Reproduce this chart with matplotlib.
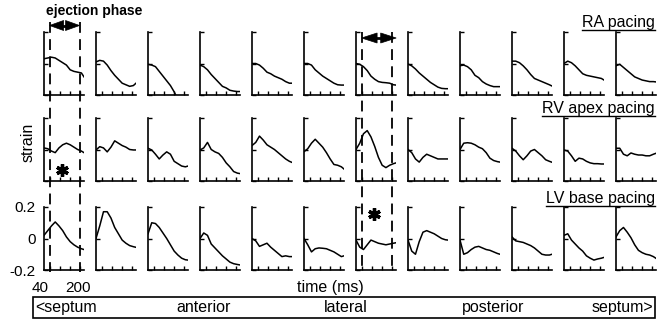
import matplotlib
matplotlib.use("Agg")
import matplotlib.pyplot as plt
from matplotlib.patches import Rectangle, Polygon
from matplotlib.lines import Line2D

plt.rcParams['font.family'] = ['Liberation Sans', 'DejaVu Sans']

# Eje de tiempo (ms) común a todas las curvas
tiempo = [10, 30, 50, 70, 90, 110, 130, 150, 170, 190, 210, 224]

# Deformación (strain) por segmento, de septum a septum (12 columnas)
ra_pacing = [
    [0.03, 0.035, 0.04, 0.035, 0.02, 0.005, -0.01, -0.04, -0.05, -0.055, -0.06, -0.085],
    [0.01, 0.02, 0.015, -0.01, -0.045, -0.075, -0.10, -0.125, -0.135, -0.145, -0.14, -0.125],
    [-0.005, -0.01, -0.02, -0.05, -0.08, -0.11, -0.14, -0.18, -0.23, -0.26, -0.28, -0.3],
    [-0.01, -0.02, -0.04, -0.07, -0.095, -0.12, -0.145, -0.155, -0.17, -0.175, -0.178, -0.178],
    [0.0, 0.0, -0.01, -0.03, -0.055, -0.065, -0.08, -0.09, -0.10, -0.115, -0.125, -0.125],
    [0.0, 0.0, -0.01, -0.04, -0.06, -0.08, -0.095, -0.11, -0.125, -0.135, -0.137, -0.137],
    [0.0, -0.005, -0.02, -0.045, -0.08, -0.10, -0.115, -0.12, -0.122, -0.125, -0.135, -0.137],
    [-0.003, -0.015, -0.035, -0.06, -0.08, -0.10, -0.12, -0.135, -0.15, -0.158, -0.16, -0.16],
    [-0.014, -0.01, -0.02, -0.04, -0.075, -0.09, -0.115, -0.13, -0.14, -0.147, -0.147, -0.147],
    [0.015, 0.015, 0.005, -0.015, -0.04, -0.07, -0.095, -0.105, -0.115, -0.125, -0.135, -0.143],
    [0.0, 0.015, 0.005, -0.015, -0.04, -0.065, -0.075, -0.08, -0.085, -0.09, -0.095, -0.105],
    [-0.014, -0.005, -0.025, -0.045, -0.065, -0.085, -0.095, -0.105, -0.11, -0.115, -0.115, -0.117],
]
rv_apex_pacing = [
    [0.01, 0.005, -0.01, -0.02, 0.01, 0.03, 0.04, 0.03, 0.015, 0.0, -0.01, -0.02],
    [-0.003, 0.018, 0.01, -0.015, 0.015, 0.055, 0.04, 0.025, 0.015, 0.0, -0.003, -0.003],
    [0.008, -0.003, -0.03, -0.06, -0.035, -0.015, -0.03, -0.075, -0.09, -0.105, -0.11, -0.105],
    [-0.003, 0.01, 0.045, 0.0, -0.015, -0.025, -0.05, -0.085, -0.11, -0.14, -0.15, -0.153],
    [0.025, 0.045, 0.085, 0.06, 0.03, 0.015, 0.0, -0.02, -0.04, -0.06, -0.075, -0.082],
    [-0.014, 0.005, 0.04, 0.065, 0.04, 0.015, -0.02, -0.06, -0.095, -0.10, -0.11, -0.124],
    [0.0, 0.04, 0.10, 0.12, 0.08, 0.02, -0.05, -0.10, -0.115, -0.10, -0.09, -0.085],
    [0.0, -0.02, -0.06, -0.08, -0.05, -0.03, -0.04, -0.05, -0.06, -0.06, -0.06, -0.06],
    [0.0, 0.04, 0.043, 0.04, 0.03, 0.015, 0.005, -0.02, -0.055, -0.07, -0.077, -0.08],
    [0.008, -0.01, -0.04, -0.065, -0.04, -0.01, 0.0, -0.02, -0.04, -0.065, -0.075, -0.081],
    [-0.003, -0.01, -0.04, -0.075, -0.055, -0.06, -0.075, -0.085, -0.09, -0.09, -0.092, -0.092],
    [0.008, 0.008, -0.03, -0.04, -0.022, -0.03, -0.035, -0.035, -0.04, -0.04, -0.03, -0.024],
]
lv_base_pacing = [
    [0.02, 0.05, 0.08, 0.105, 0.08, 0.05, 0.01, -0.02, -0.04, -0.055, -0.065, -0.07],
    [0.0, 0.08, 0.17, 0.17, 0.13, 0.07, 0.03, -0.01, -0.03, -0.045, -0.052, -0.056],
    [0.03, 0.10, 0.095, 0.07, 0.035, 0.0, -0.04, -0.08, -0.105, -0.125, -0.135, -0.137],
    [0.0, 0.035, 0.02, -0.035, -0.06, -0.085, -0.11, -0.13, -0.15, -0.16, -0.165, -0.168],
    [0.0, -0.015, -0.05, -0.04, -0.03, -0.055, -0.075, -0.095, -0.115, -0.11, -0.115, -0.115],
    [0.0, -0.04, -0.085, -0.065, -0.06, -0.062, -0.065, -0.075, -0.085, -0.10, -0.115, -0.11],
    [-0.01, -0.055, -0.07, -0.04, -0.01, -0.02, -0.03, -0.035, -0.04, -0.035, -0.03, -0.027],
    [-0.01, -0.08, -0.10, -0.02, 0.04, 0.05, 0.04, 0.03, 0.015, 0.0, -0.008, -0.01],
    [-0.01, -0.10, -0.09, -0.07, -0.055, -0.05, -0.06, -0.07, -0.075, -0.085, -0.095, -0.10],
    [0.01, -0.015, -0.02, -0.025, -0.035, -0.045, -0.06, -0.08, -0.10, -0.105, -0.105, -0.10],
    [0.02, 0.03, -0.01, -0.035, -0.06, -0.08, -0.11, -0.125, -0.137, -0.13, -0.125, -0.12],
    [0.01, 0.05, 0.07, 0.04, 0.005, -0.04, -0.075, -0.09, -0.10, -0.105, -0.115, -0.126],
]

filas = ['RA pacing', 'RV apex pacing', 'LV base pacing']
datos = [ra_pacing, rv_apex_pacing, lv_base_pacing]
regiones = ['<septum', 'anterior', 'lateral', 'posterior', 'septum>']
fase_eyeccion = [40, 200]  # ms
yticks = [-0.2, 0, 0.2]
ytick_labels = ['-0.2', '0', '0.2']

# Geometría en píxeles de la imagen
W, H = 667, 327
izq = [44 + 52 * i for i in range(12)]
arriba = [32, 118, 207]
ancho, alto = 40, 63


def fx(x):
    return x / W


def fy(y):
    return 1 - y / H


fig = plt.figure(figsize=(W / 100, H / 100), dpi=100)

ejes = []
for r in range(3):
    fila_ejes = []
    for c in range(12):
        ax = fig.add_axes([fx(izq[c]), fy(arriba[r] + alto), ancho / W, alto / H])
        ax.plot(tiempo, datos[r][c], color='k', lw=1.1)
        ax.set_xlim(10, 224)
        ax.set_ylim(-0.2, 0.2)
        ax.patch.set_alpha(0)
        for lado in ['top', 'right']:
            ax.spines[lado].set_visible(False)
        for lado in ['left', 'bottom']:
            ax.spines[lado].set_linewidth(1.2)
        ax.set_xticks([40, 93, 147, 200])
        ax.set_yticks(yticks)
        ax.tick_params(direction='in', length=3, width=1, labelbottom=False, labelleft=False)
        if r == 2 and c == 0:
            ax.set_yticklabels(ytick_labels)
            ax.tick_params(labelleft=True, labelsize=11, pad=6)
        fila_ejes.append(ax)
    ejes.append(fila_ejes)


def x_fig(ax, t):
    # posición en fracción de figura de un tiempo t dentro de un panel
    return fig.transFigure.inverted().transform(ax.transData.transform((t, 0)))[0]


# Líneas discontinuas de la fase de eyección (columnas 0 y 6)
for c, y_sup in [(0, 22), (6, 32)]:
    for t in fase_eyeccion:
        xf = x_fig(ejes[0][c], t)
        fig.add_artist(Line2D([xf, xf], [fy(y_sup), fy(272)], color='k', lw=1.3,
                              linestyle=(0, (6, 3.5)), transform=fig.transFigure))


def flecha_doble(xa, xb, y, largo=14, semi=5):
    # dos triángulos rellenos apuntando hacia fuera con una barra entre ellos
    lx, ly = largo / W, semi / H
    fig.add_artist(Line2D([xa + lx, xb - lx], [y, y], color='k', lw=2, transform=fig.transFigure))
    for punta, base in [(xa, xa + lx), (xb, xb - lx)]:
        fig.add_artist(Polygon([(punta, y), (base, y + ly), (base, y - ly)], closed=True,
                               facecolor='k', edgecolor='k', lw=0.5, transform=fig.transFigure))


flecha_doble(x_fig(ejes[0][0], 40), x_fig(ejes[0][0], 200), fy(25.5), largo=14)
flecha_doble(x_fig(ejes[0][6], 40), x_fig(ejes[0][6], 225), fy(38), largo=15.5)

fig.text(fx(46.5), fy(14.5), 'ejection phase', fontsize=10, fontweight='bold', va='baseline')

# Asteriscos
for r, c, xa, ya in [(1, 0, 0.44, 0.175), (2, 6, 0.46, 0.89)]:
    ejes[r][c].plot([xa], [ya], marker=(6, 2, 0), ms=9, mew=2.4, color='k',
                    transform=ejes[r][c].transAxes, clip_on=False)

# Títulos de fila subrayados
renderer = fig.canvas.get_renderer()
for nombre, base in zip(filas, [27, 113, 203]):
    txt = fig.text(fx(655), fy(base), nombre, fontsize=11.5, ha='right', va='baseline')
    bb = txt.get_window_extent(renderer=renderer)
    x0, _ = fig.transFigure.inverted().transform((bb.x0, 0))
    x1, _ = fig.transFigure.inverted().transform((bb.x1, 0))
    fig.add_artist(Line2D([x0, x1], [fy(base + 2.5), fy(base + 2.5)], color='k', lw=1,
                          transform=fig.transFigure))

fig.text(fx(28), fy(142), 'strain', fontsize=11.5, rotation=90, ha='center', va='center')
fig.text(fx(40), fy(291.5), '40', fontsize=11, ha='center', va='baseline')
fig.text(fx(77.5), fy(291.5), '200', fontsize=11, ha='center', va='baseline')
fig.text(fx(330), fy(292), 'time (ms)', fontsize=11.5, ha='center', va='baseline')

# Caja inferior con las regiones
fig.add_artist(Rectangle((fx(32.5), fy(318)), (655 - 32.5) / W, 21 / H, fill=False,
                         lw=1.2, edgecolor='k', transform=fig.transFigure))
pos_regiones = [(35.5, 'left'), (204, 'center'), (346, 'center'), (493, 'center'), (653, 'right')]
for nombre, (xr, alin) in zip(regiones, pos_regiones):
    fig.text(fx(xr), fy(312), nombre, fontsize=11.5, ha=alin, va='baseline')

fig.savefig('out.png', dpi=100)
